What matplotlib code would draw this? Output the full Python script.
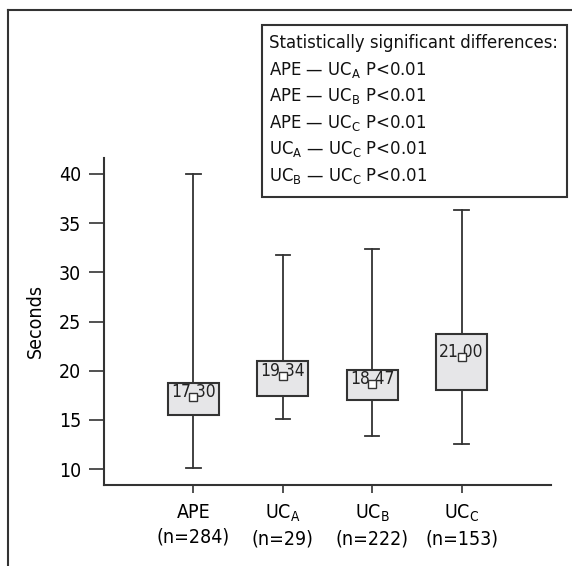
import numpy as np
import matplotlib.pyplot as plt
from matplotlib.lines import Line2D
from matplotlib.patches import Rectangle

plt.rcParams['font.family'] = ['DejaVu Sans']
plt.rcParams['font.stretch'] = 'condensed'
plt.rcParams['mathtext.fontset'] = 'custom'
plt.rcParams['mathtext.rm'] = 'DejaVu Sans:stretch=condensed'

# data
groups = ['APE\n(n=284)', 'UC$_\\mathregular{A}$\n(n=29)',
          'UC$_\\mathregular{B}$\n(n=222)', 'UC$_\\mathregular{C}$\n(n=153)']
whisker_low = [10.1, 15.1, 13.35, 12.55]
box_low = [15.5, 17.4, 17.0, 18.0]
box_high = [18.75, 20.95, 20.1, 23.7]
whisker_high = [40.0, 31.75, 32.35, 36.3]
means = [17.3, 19.45, 18.7, 21.4]
mean_labels = ['17.30', '19.34', '18.47', '21.00']
yticks = [10, 15, 20, 25, 30, 35, 40]

legend_lines = [
    'Statistically significant differences:',
    'APE \u2014 UC$_\\mathregular{A}$ P<0.01',
    'APE \u2014 UC$_\\mathregular{B}$ P<0.01',
    'APE \u2014 UC$_\\mathregular{C}$ P<0.01',
    'UC$_\\mathregular{A}$ \u2014 UC$_\\mathregular{C}$ P<0.01',
    'UC$_\\mathregular{B}$ \u2014 UC$_\\mathregular{C}$ P<0.01',
]

dark = '#333333'
W, H = 572, 566

fig = plt.figure(figsize=(W / 100, H / 100), dpi=100)
ax = fig.add_axes([104 / W, 1 - 485 / H, (551 - 104) / W, (485 - 158) / H])

stats = []
for i in range(len(groups)):
    stats.append({'med': means[i], 'q1': box_low[i], 'q3': box_high[i],
                  'whislo': whisker_low[i], 'whishi': whisker_high[i],
                  'mean': means[i], 'fliers': []})

positions = np.arange(1, len(groups) + 1)
ax.bxp(stats, positions=positions, widths=0.57, capwidths=0.16,
       patch_artist=True, showmeans=True, showfliers=False,
       boxprops=dict(facecolor='#e6e6e8', edgecolor=dark, linewidth=1.5),
       whiskerprops=dict(color=dark, linewidth=1.3),
       capprops=dict(color=dark, linewidth=1.3),
       medianprops=dict(visible=False),
       meanprops=dict(marker='s', markersize=5.5, markerfacecolor='white',
                      markeredgecolor=dark, markeredgewidth=1.0, zorder=3),
       manage_ticks=False)

for p, m, lab in zip(positions, means, mean_labels):
    ax.annotate(lab, (p, m), xytext=(0, 3.5), textcoords='offset points',
                ha='center', va='center', fontsize=12.5, color='#222222',
                zorder=2.05)

ax.set_xlim(0, 5)
ax.set_ylim(8.4, 41.6)
ax.set_yticks(yticks)
ax.set_xticks(positions)
ax.set_xticklabels(groups, fontsize=14, linespacing=1.35)
ax.tick_params(axis='y', labelsize=14, length=10.5, width=1.2, color=dark, pad=6)
ax.tick_params(axis='x', length=6, width=1.2, color=dark, pad=7)
ax.set_ylabel('Seconds', fontsize=14, labelpad=10)

for s in ['top', 'right']:
    ax.spines[s].set_visible(False)
for s in ['left', 'bottom']:
    ax.spines[s].set_color(dark)
    ax.spines[s].set_linewidth(1.5)

# outer frame (top and left edges only)
fig.add_artist(Line2D([8 / W, 1], [1 - 10 / H, 1 - 10 / H], color=dark, lw=1.5,
                      transform=fig.transFigure))
fig.add_artist(Line2D([8 / W, 8 / W], [1 - 10 / H, 0], color=dark, lw=1.5,
                      transform=fig.transFigure))

# legend box with significance notes
fig.add_artist(Rectangle((262 / W, 1 - 197 / H), (567 - 262) / W, (197 - 25) / H,
                         facecolor='white', edgecolor=dark, lw=1.5,
                         transform=fig.transFigure, zorder=5))
baselines = [48, 75, 101, 128, 154, 181]
for txt, b in zip(legend_lines, baselines):
    fig.text(269 / W, 1 - b / H, txt, fontsize=13.2, ha='left', va='baseline',
             color='#111111', zorder=6)

fig.savefig('out.png', dpi=100)
